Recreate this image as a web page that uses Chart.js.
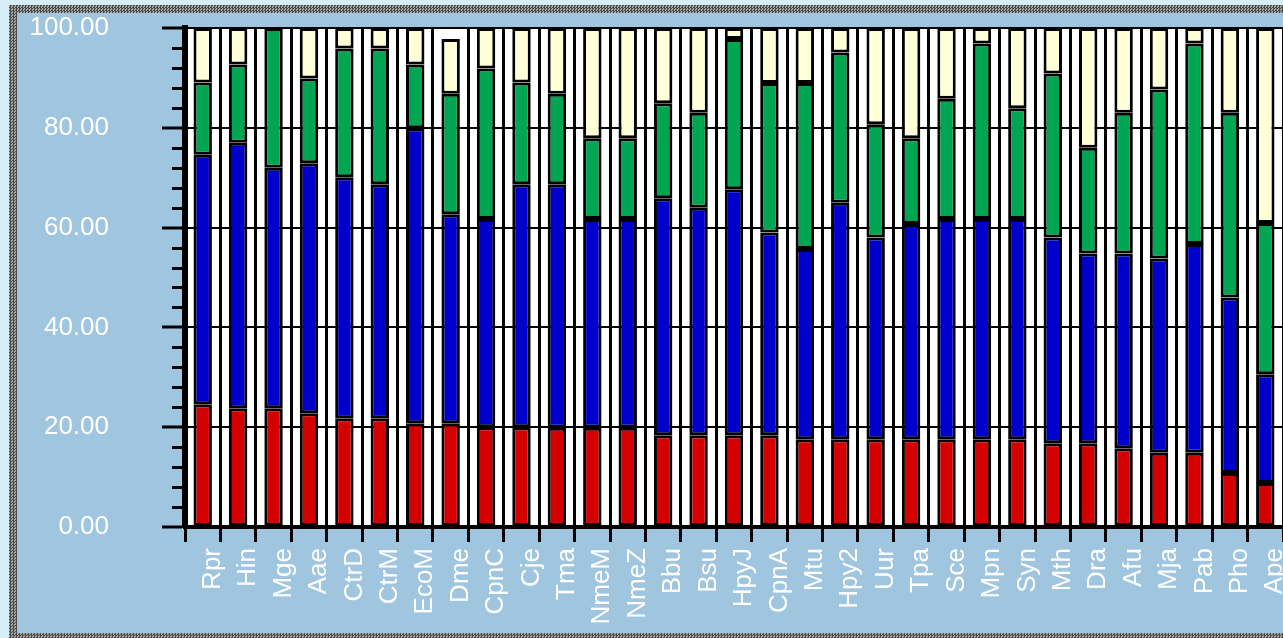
<!DOCTYPE html>
<html>
<head>
<meta charset="utf-8">
<script src="https://cdn.jsdelivr.net/npm/chart.js@4.4.1/dist/chart.umd.min.js"></script>
<style>
    html, body {
        margin: 0;
        padding: 0;
        width: 1283px;
        height: 638px;
        overflow: hidden;
        background: #d6eef4;
    }
    #frame {
        position: absolute;
        left: 9px;
        top: 5px;
        width: 1300px;
        height: 660px;
        background: repeating-conic-gradient(#4a4a4a 0 25%, #a6a6a6 0 50%) 0 0 / 3px 3px;
    }
    #panel {
        position: absolute;
        left: 17px;
        top: 13px;
        width: 1300px;
        height: 620px;
        background: #a0c5df;
    }
    #wrap {
        position: absolute;
        left: 0;
        top: 0;
        width: 1283px;
        height: 638px;
    }
</style>
</head>
<body>
<div id="frame"></div>
<div id="panel"></div>
<div id="wrap"><canvas id="compositionChart"></canvas></div>
<script>
// Categories (organisms) and the four stacked segments, in percent
const categories = ['Rpr', 'Hin', 'Mge', 'Aae', 'CtrD', 'CtrM', 'EcoM', 'Dme', 'CpnC', 'Cje',
    'Tma', 'NmeM', 'NmeZ', 'Bbu', 'Bsu', 'HpyJ', 'CpnA', 'Mtu', 'Hpy2', 'Uur',
    'Tpa', 'Sce', 'Mpn', 'Syn', 'Mth', 'Dra', 'Afu', 'Mja', 'Pab', 'Pho', 'Ape'];

const redValues = [24.6, 23.8, 23.8, 22.8, 21.8, 21.8, 20.8, 20.8, 20.0, 20.0,
    19.9, 19.9, 19.9, 18.4, 18.4, 18.4, 18.4, 17.6, 17.6, 17.6,
    17.6, 17.6, 17.6, 17.6, 16.8, 16.8, 15.8, 14.9, 14.9, 10.8, 8.8];

const blueValues = [50.0, 53.2, 48.2, 50.1, 48.3, 46.9, 59.1, 41.9, 41.7, 48.7,
    48.8, 41.8, 41.8, 47.5, 45.6, 49.3, 40.6, 38.1, 47.4, 40.4,
    43.1, 44.1, 44.1, 44.1, 41.2, 38.0, 39.0, 38.9, 41.8, 35.2, 21.8];

const greenValues = [14.5, 15.7, 28.0, 17.0, 25.8, 27.2, 12.8, 24.1, 30.2, 20.4,
    18.1, 16.2, 16.2, 19.0, 19.0, 30.1, 30.0, 33.3, 30.1, 22.7,
    17.2, 24.1, 35.2, 22.2, 32.9, 21.2, 28.2, 33.9, 40.2, 37.0, 30.3];

const creamValues = [10.9, 7.3, 0, 10.1, 4.1, 4.1, 7.3, 11.0, 8.1, 10.9,
    13.2, 22.1, 22.1, 15.1, 17.0, 2.2, 11.0, 11.0, 4.9, 19.3,
    22.1, 14.2, 3.1, 16.1, 9.1, 24.0, 17.0, 12.3, 3.1, 17.0, 39.1];

const yTicks = [0, 20, 40, 60, 80, 100];

const labelFont = { family: "'Liberation Sans', Arial, sans-serif", size: 26 };

// white plot background
const plotBackground = {
    id: 'plotBackground',
    beforeDraw(chart) {
        const { ctx, chartArea } = chart;
        ctx.save();
        ctx.fillStyle = '#ffffff';
        ctx.fillRect(chartArea.left, chartArea.top, chartArea.right - chartArea.left, chartArea.bottom - chartArea.top);
        ctx.restore();
    }
};

// short minor ticks on the y axis every 4 units
const minorTicks = {
    id: 'minorTicks',
    afterDraw(chart) {
        const { ctx, chartArea, scales } = chart;
        ctx.save();
        ctx.strokeStyle = '#000000';
        ctx.lineWidth = 3;
        for (let v = 4; v < 100; v += 4) {
            if (v % 20 === 0) continue;
            const y = Math.round(scales.y.getPixelForValue(v)) + 0.5;
            ctx.beginPath();
            ctx.moveTo(chartArea.left - 13, y);
            ctx.lineTo(chartArea.left, y);
            ctx.stroke();
        }
        ctx.restore();
    }
};

function makeSet(label, data, color) {
    return {
        label: label,
        data: data,
        backgroundColor: color,
        borderColor: '#000000',
        borderWidth: 3,
        borderSkipped: false,
        barPercentage: 0.52,
        categoryPercentage: 1.0
    };
}

document.addEventListener('DOMContentLoaded', function() {
    const ctx = document.getElementById('compositionChart');
    new Chart(ctx, {
        type: 'bar',
        data: {
            labels: categories,
            datasets: [
                makeSet('red', redValues, '#d40000'),
                makeSet('blue', blueValues, '#0000cc'),
                makeSet('green', greenValues, '#00a551'),
                makeSet('cream', creamValues, '#ffffd8')
            ]
        },
        options: {
            responsive: true,
            maintainAspectRatio: false,
            animation: false,
            layout: {
                padding: { left: 0, right: 0, top: 28, bottom: 0 }
            },
            scales: {
                x: {
                    stacked: true,
                    offset: true,
                    grid: {
                        offset: true,
                        color: '#000000',
                        lineWidth: 3,
                        drawTicks: true,
                        tickLength: 15,
                        tickWidth: 3,
                        tickColor: '#000000'
                    },
                    border: { color: '#000000', width: 4 },
                    ticks: {
                        color: '#ffffff',
                        font: labelFont,
                        minRotation: 90,
                        maxRotation: 90,
                        autoSkip: false,
                        labelOffset: 10,
                        padding: 6
                    },
                    afterFit(scale) {
                        scale.height = 111;
                        scale.paddingLeft = 0;
                        scale.paddingRight = 0;
                    }
                },
                y: {
                    stacked: true,
                    min: 0,
                    max: 100,
                    afterBuildTicks(scale) {
                        scale.ticks = yTicks.map(v => ({ value: v }));
                    },
                    grid: {
                        color: '#000000',
                        lineWidth: 2,
                        tickLength: 23,
                        tickWidth: 3,
                        tickColor: '#000000'
                    },
                    border: { color: '#000000', width: 6 },
                    ticks: {
                        color: '#ffffff',
                        font: labelFont,
                        padding: 53,
                        callback: function(value) {
                            return Number(value).toFixed(2);
                        }
                    },
                    afterFit(scale) {
                        scale.width = 185;
                        scale.paddingTop = 0;
                        scale.paddingBottom = 0;
                    }
                }
            },
            plugins: {
                legend: { display: false },
                tooltip: { enabled: false }
            }
        },
        plugins: [plotBackground, minorTicks]
    });
});
</script>
</body>
</html>
